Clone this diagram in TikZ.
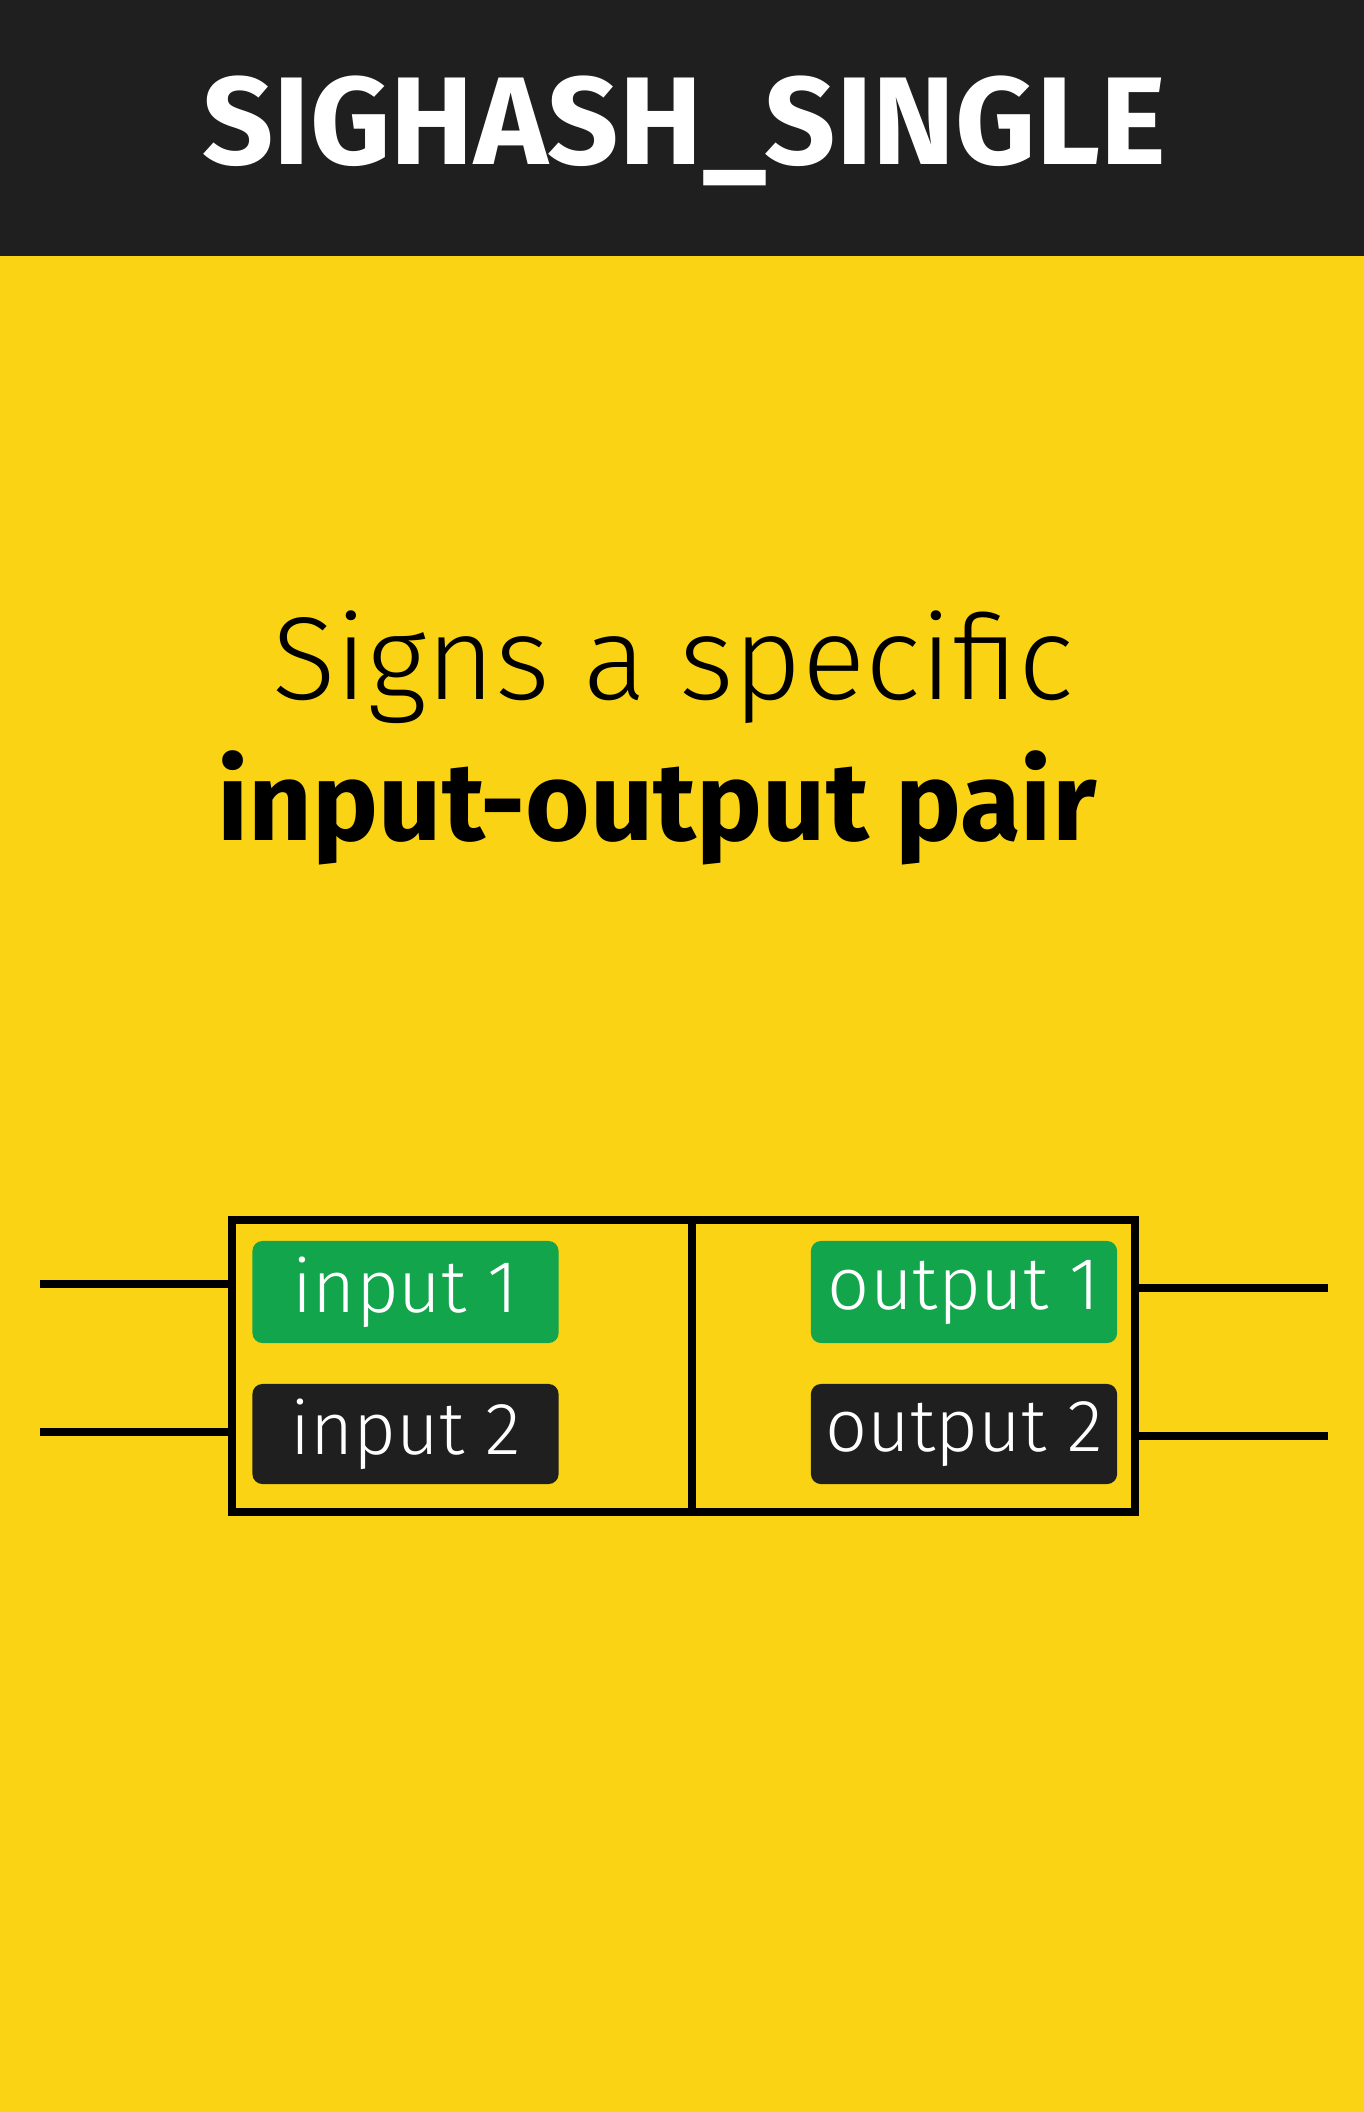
\documentclass[tikz,border=0pt]{standalone}
\usepackage{fontspec}
\setmainfont{Fira Sans}
\newfontfamily\thinfont{Fira Sans Light}
\usetikzlibrary{positioning,calc}
\definecolor{sunny}{RGB}{250,212,20}
\definecolor{ink}{RGB}{31,31,31}
\definecolor{okgreen}{RGB}{18,165,76}

\begin{document}
\begin{tikzpicture}[x=0.01cm,y=-0.01cm,
  half/.style={draw,line width=0.08cm,inner sep=0pt,minimum height=2.92cm},
  pill/.style={rounded corners=0.1cm,inner sep=0pt,minimum width=3.06cm,minimum height=1.02cm,
    text=white,font=\thinfont\fontsize{21}{24}\selectfont},
  wire/.style={line width=0.08cm}]
  \useasboundingbox (0,0) rectangle (1364,2112);
  \fill[sunny] (0,0) rectangle (1364,2112);
  \fill[ink] (0,0) rectangle (1364,256);
  \node[anchor=base,text=white,font=\bfseries\fontsize{35.5}{38}\selectfont] (title) at (684,164) {SIGHASH\_SINGLE};
  \node[anchor=base,font=\thinfont\fontsize{33.5}{36}\selectfont] (sub) at (673,699) {Signs a specific};
  \node[anchor=base,font=\bfseries\fontsize{31.5}{34}\selectfont] (pair) at (657,840) {input-output pair};
  % the transaction
  \node[half,minimum width=4.6cm] (ins) at (462,1366) {};
  \node[half,minimum width=4.43cm] (outs) at (913.5,1366) {};
  \node[pill,fill=okgreen] (in1) at (405.5,1292) {input 1};
  \node[pill,fill=ink,minimum height=1cm] (in2) at (405.5,1434) {input 2};
  \node[pill,fill=okgreen] (out1) at (964,1292) {output 1};
  \node[pill,fill=ink,minimum height=1cm] (out2) at (964,1434) {output 2};
  \coordinate (a1) at (40,1284);
  \coordinate (a2) at (40,1432);
  \coordinate (b1) at (1328,1288);
  \coordinate (b2) at (1328,1436);
  \draw[wire] (a1) -- (a1 -| ins.west);
  \draw[wire] (a2) -- (a2 -| ins.west);
  \draw[wire] (b1 -| outs.east) -- (b1);
  \draw[wire] (b2 -| outs.east) -- (b2);
\end{tikzpicture}
\end{document}
